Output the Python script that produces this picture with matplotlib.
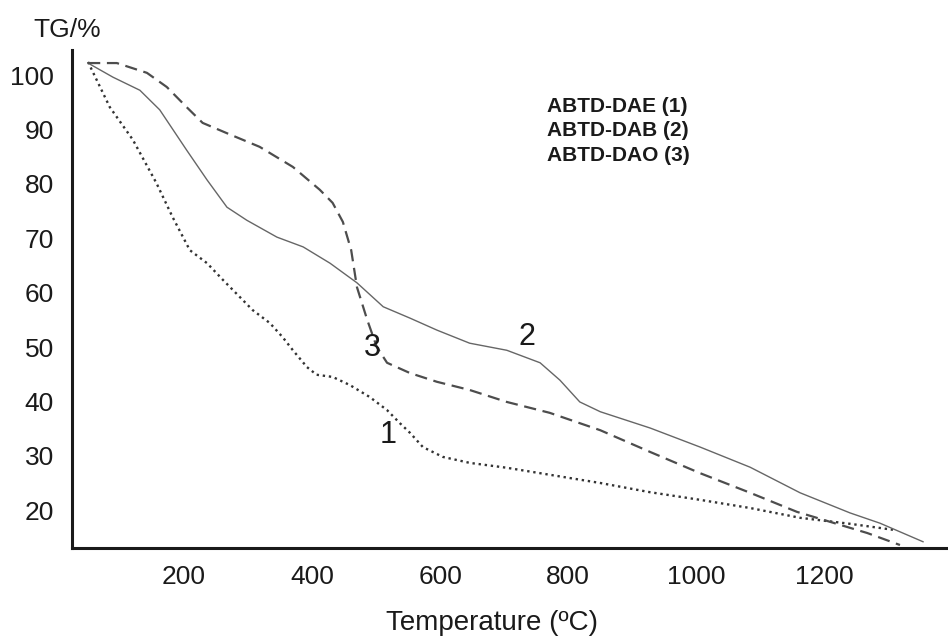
import numpy as np
import matplotlib.pyplot as plt

plt.rcParams['font.family'] = ['Liberation Sans', 'DejaVu Sans']

# curve 1 : ABTD-DAE (dotted)
t1 = [50, 84, 120, 157, 182, 209, 236, 261, 287, 307, 334, 354, 370, 392, 407,
      432, 459, 490, 517, 537, 553, 573, 604, 646, 704, 850, 928, 1006, 1084,
      1162, 1240, 1307]
tg1 = [102.4, 94.1, 88.1, 80.1, 73.9, 67.8, 65.4, 62.3, 59.2, 56.8, 54.4, 51.8,
       49.4, 46.3, 44.9, 44.5, 43.0, 40.8, 38.4, 36.0, 34.2, 31.6, 29.8, 28.7,
       27.8, 25.0, 23.3, 21.9, 20.4, 18.6, 17.5, 16.4]

# curve 2 : ABTD-DAB (solid)
t2 = [50, 89, 131, 162, 204, 236, 267, 298, 345, 386, 428, 470, 511, 553, 595,
      646, 704, 756, 787, 818, 850, 928, 1006, 1084, 1162, 1240, 1287, 1354]
tg2 = [102.2, 99.6, 97.2, 93.6, 86.2, 80.7, 75.7, 73.3, 70.2, 68.4, 65.4, 61.8,
       57.4, 55.3, 53.1, 50.7, 49.4, 47.1, 43.9, 39.9, 38.1, 35.1, 31.6, 27.9,
       23.2, 19.5, 17.6, 14.2]

# curve 3 : ABTD-DAO (dashed)
t3 = [50, 95, 142, 173, 204, 229, 267, 318, 370, 412, 432, 448, 461, 470, 486,
      501, 517, 553, 595, 646, 704, 771, 850, 928, 1006, 1084, 1157, 1267, 1318]
tg3 = [102.2, 102.2, 100.4, 97.8, 94.1, 91.2, 89.3, 86.8, 83.1, 78.9, 76.5, 73.0,
       67.8, 61.0, 55.0, 50.0, 47.1, 45.2, 43.6, 42.1, 39.9, 37.9, 34.7, 30.7,
       26.8, 23.2, 19.7, 15.8, 13.6]

xticks = [200, 400, 600, 800, 1000, 1200]
yticks = [20, 30, 40, 50, 60, 70, 80, 90, 100]
names = ['ABTD-DAE (1)', 'ABTD-DAB (2)', 'ABTD-DAO (3)']

W, H = 948, 636
ink = '#1a1a1a'
fig = plt.figure(figsize=(W / 100, H / 100), dpi=100)
ax = fig.add_axes([72 / W, 1 - 548 / H, 1 - 72 / W, (548 - 50) / H])

ax.plot(t1, tg1, color='#333333', lw=1.7, linestyle=(0, (1, 1.6)))
ax.plot(t2, tg2, color='#666666', lw=1.0)
ax.plot(t3, tg3, color='#4d4d4d', lw=1.6, linestyle=(0, (5.5, 3)))

ax.set_xlim(25, 1393)
ax.set_ylim(13.05, 104.6)
ax.set_xticks(xticks)
ax.set_yticks(yticks)
ax.tick_params(length=0, labelsize=19, colors=ink)
ax.tick_params(axis='y', pad=13)
ax.tick_params(axis='x', pad=12)

for s in ['top', 'right']:
    ax.spines[s].set_visible(False)
for s in ['left', 'bottom']:
    ax.spines[s].set_linewidth(2.2)
    ax.spines[s].set_color(ink)

# curve numbers
for lab, (px, py) in zip(['1', '2', '3'], [(388, 435), (527, 337), (372, 348)]):
    fig.text(px / W, 1 - py / H, lab, fontsize=22, ha='center', va='center', color=ink)

# sample names
for i, name in enumerate(names):
    fig.text(547 / W, 1 - (106 + 25 * i) / H, name, fontsize=15, fontweight='bold',
             ha='left', va='center', color=ink)

fig.text(67 / W, 1 - 30 / H, 'TG/%', fontsize=19, ha='center', va='center', color=ink)
fig.text(492 / W, 1 - 623 / H, 'Temperature (ºC)', fontsize=20, ha='center', va='center',
         color=ink)

fig.savefig('out.png', dpi=100)
